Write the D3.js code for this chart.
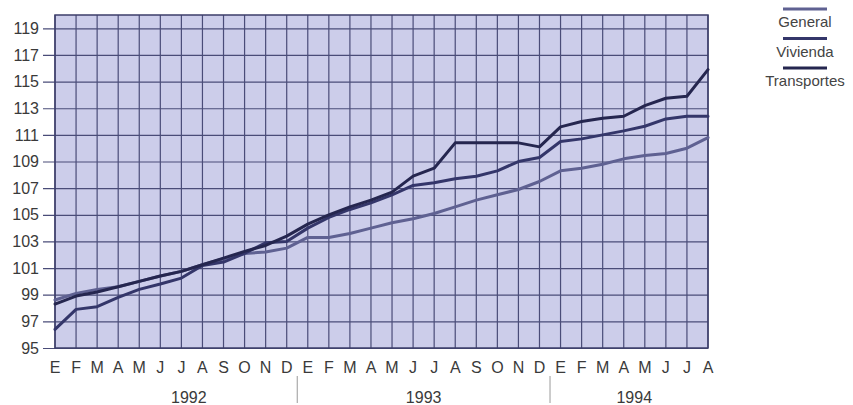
<!DOCTYPE html>
<html>
<head>
<meta charset="utf-8">
<script src="https://cdn.jsdelivr.net/npm/d3@7"></script>
<style>
  html, body { margin: 0; padding: 0; background: #fff; }
  svg { display: block; font-family: "Liberation Sans", Arial, sans-serif; }
</style>
</head>
<body>
<div id="chart"></div>
<script>
// Month initials (Spanish), Jan 1992 .. Aug 1994
const months = [
    'E','F','M','A','M','J','J','A','S','O','N','D',
    'E','F','M','A','M','J','J','A','S','O','N','D',
    'E','F','M','A','M','J','J','A'
];
const years = ['1992', '1993', '1994'];
const yearStart = [0, 12, 24];
const yearEnd = [11, 23, 31];

const yTicks = [95, 97, 99, 101, 103, 105, 107, 109, 111, 113, 115, 117, 119];

const general = [
    98.6, 99.1, 99.4, 99.6, 100.0, 100.4, 100.75, 101.25, 101.7, 102.1, 102.2, 102.5,
    103.3, 103.3, 103.6, 104.0, 104.4, 104.7, 105.1, 105.6, 106.1, 106.5, 106.9, 107.5,
    108.3, 108.5, 108.8, 109.2, 109.45, 109.6, 110.0, 110.8
];
const vivienda = [
    96.4, 97.9, 98.1, 98.8, 99.4, 99.8, 100.25, 101.2, 101.45, 102.1, 102.9, 103.0,
    104.0, 104.8, 105.4, 105.9, 106.5, 107.2, 107.4, 107.7, 107.9, 108.3, 109.0, 109.3,
    110.5, 110.7, 111.0, 111.3, 111.65, 112.2, 112.4, 112.4
];
const transportes = [
    98.3, 98.9, 99.2, 99.6, 100.0, 100.4, 100.75, 101.25, 101.75, 102.25, 102.7, 103.4,
    104.3, 105.0, 105.6, 106.1, 106.7, 107.9, 108.5, 110.4, 110.4, 110.4, 110.4, 110.1,
    111.6, 112.0, 112.25, 112.4, 113.2, 113.75, 113.9, 115.9
];

const seriesNames = ['General', 'Vivienda', 'Transportes'];
const seriesValues = [general, vivienda, transportes];
const seriesColors = ['#5f6192', '#34366a', '#25264f'];

const width = 853, height = 405;
const plot = { left: 55, right: 708, top: 15, bottom: 348 };
const textColor = '#3a3a3a';

const svg = d3.select('#chart')
    .append('svg')
    .attr('width', width)
    .attr('height', height);

const idx = d3.range(months.length);
const x = d3.scaleLinear()
    .domain([0, months.length - 1])
    .range([plot.left, plot.right]);
const y = d3.scaleLinear()
    .domain([95, 120])
    .range([plot.bottom, plot.top]);

// Plot background
svg.append('rect')
    .attr('x', plot.left)
    .attr('y', plot.top)
    .attr('width', plot.right - plot.left)
    .attr('height', plot.bottom - plot.top)
    .attr('fill', '#cccdea');

// Vertical grid (one per month)
svg.append('g')
    .selectAll('line')
    .data(idx)
    .enter()
    .append('line')
    .attr('x1', d => x(d))
    .attr('x2', d => x(d))
    .attr('y1', plot.top)
    .attr('y2', plot.bottom)
    .attr('stroke', '#4a4c78')
    .attr('stroke-width', 1.2);

// Horizontal grid + left ticks
const yAxis = d3.axisLeft(y)
    .tickValues(yTicks)
    .tickSize(12)
    .tickPadding(4)
    .tickFormat(d3.format('d'));

const yg = svg.append('g')
    .attr('transform', `translate(${plot.left},0)`)
    .call(yAxis);
yg.select('.domain').remove();
yg.selectAll('.tick line')
    .attr('x2', plot.right - plot.left)
    .attr('x1', -12)
    .attr('stroke', '#4a4c78')
    .attr('stroke-width', 1.2);
yg.selectAll('.tick text')
    .attr('fill', textColor)
    .attr('font-size', '16px')
    .attr('font-family', '"Liberation Sans", Arial, sans-serif');

// Plot border
svg.append('rect')
    .attr('x', plot.left)
    .attr('y', plot.top)
    .attr('width', plot.right - plot.left)
    .attr('height', plot.bottom - plot.top)
    .attr('fill', 'none')
    .attr('stroke', '#3c3e6a')
    .attr('stroke-width', 1.5);

// Month labels
svg.append('g')
    .selectAll('text')
    .data(months)
    .enter()
    .append('text')
    .attr('x', (d, i) => x(i))
    .attr('y', 373)
    .attr('text-anchor', 'middle')
    .attr('fill', textColor)
    .attr('font-size', '16px')
    .text(d => d);

// Year labels and separators
svg.append('g')
    .selectAll('text')
    .data(years)
    .enter()
    .append('text')
    .attr('x', (d, i) => x((yearStart[i] + yearEnd[i]) / 2) + (i === 0 ? 18 : 0))
    .attr('y', 403)
    .attr('text-anchor', 'middle')
    .attr('fill', textColor)
    .attr('font-size', '16px')
    .text(d => d);

svg.append('g')
    .selectAll('line')
    .data(yearStart.slice(1))
    .enter()
    .append('line')
    .attr('x1', d => x(d - 0.5))
    .attr('x2', d => x(d - 0.5))
    .attr('y1', 376)
    .attr('y2', 403)
    .attr('stroke', '#9a9a9a')
    .attr('stroke-width', 1);

// Series lines
const line = d3.line()
    .x((d, i) => x(i))
    .y(d => y(d));

svg.append('g')
    .selectAll('path')
    .data(seriesValues)
    .enter()
    .append('path')
    .attr('d', d => line(d))
    .attr('fill', 'none')
    .attr('stroke', (d, i) => seriesColors[i])
    .attr('stroke-width', 3)
    .attr('stroke-linejoin', 'round')
    .attr('stroke-linecap', 'round');

// Legend
const legend = svg.append('g')
    .attr('transform', 'translate(805,0)');
const items = legend.selectAll('g')
    .data(seriesNames)
    .enter()
    .append('g')
    .attr('transform', (d, i) => `translate(0,${9 + i * 29.5})`);
items.append('line')
    .attr('x1', -22)
    .attr('x2', 22)
    .attr('stroke', (d, i) => seriesColors[i])
    .attr('stroke-width', 3);
items.append('text')
    .attr('y', 18)
    .attr('text-anchor', 'middle')
    .attr('fill', '#444')
    .attr('font-size', '15px')
    .text(d => d);
</script>
</body>
</html>
